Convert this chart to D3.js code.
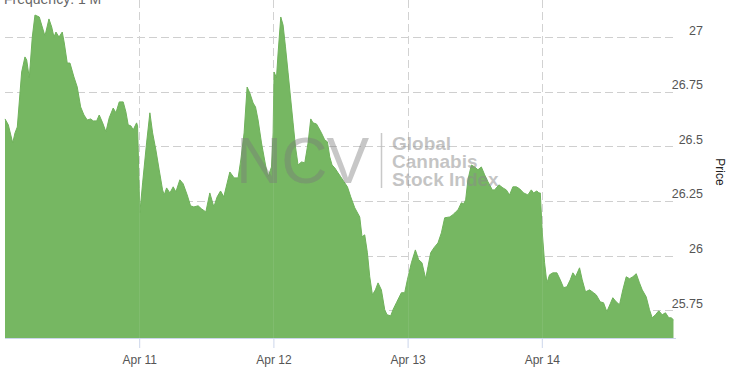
<!DOCTYPE html>
<html>
<head>
<meta charset="utf-8">
<script src="https://cdn.jsdelivr.net/npm/d3@7"></script>
<style>
  html, body { margin: 0; padding: 0; background: #fff; }
  svg { display: block; font-family: "Liberation Sans", Arial, Helvetica, sans-serif; }
</style>
</head>
<body>
<svg id="chart" width="734" height="370"></svg>
<script>
// Hours since Apr 10 00:00
const hours = [0,0.59,1.38,1.79,2.20,2.98,3.57,3.88,4.34,4.88,5.36,6.13,6.56,7.15,7.86,8.35,8.76,9.11,9.65,10.24,10.60,11.13,11.62,12.33,12.92,13.53,14.12,14.71,15.31,15.78,16.39,16.85,17.46,18.05,18.64,19.35,19.84,20.43,21.14,21.62,22.03,22.52,22.93,23.53,23.71,24.12,24.61,25.32,25.91,26.40,26.98,27.57,28.18,28.47,28.90,29.49,30.08,30.56,31.27,31.86,32.58,33.18,33.77,34.54,35.15,35.92,36.63,37.35,37.94,38.55,39.13,40.21,40.98,41.69,42.17,42.76,43.30,43.78,44.37,44.80,45.26,45.87,46.59,47.05,47.66,47.95,48.12,48.55,48.84,49.32,49.73,50.16,50.63,51.11,51.52,51.95,52.41,53.02,53.61,54.20,54.68,55.09,55.70,56.11,56.59,57.18,57.66,58.08,58.49,58.97,59.56,60.04,60.63,61.24,61.83,62.55,63.44,63.85,64.33,64.81,65.23,65.71,66.24,66.71,67.31,67.91,68.32,68.98,69.39,70.00,70.89,71.48,71.96,72.68,73.39,73.98,74.57,75.23,75.64,76.13,76.72,77.43,78.04,78.63,79.52,80.11,80.59,81.01,81.61,82.02,82.38,82.79,83.40,83.99,84.58,85.19,85.78,86.37,87.15,87.56,88.33,89.05,89.65,90.24,90.83,91.44,92.03,92.75,93.51,94.12,94.53,95.12,95.48,95.73,96.09,96.50,96.91,97.39,97.98,98.70,99.30,99.89,100.48,101.09,101.56,102.04,102.75,103.23,103.82,104.54,105.25,105.74,106.45,107.04,107.63,108.24,108.70,109.31,109.90,110.49,111.10,111.69,112.28,112.89,113.47,113.96,114.67,115.26,115.74,116.33,116.92,117.53,118.12,118.71,119.14,119.55];
const prices = [26.626,26.599,26.516,26.562,26.589,26.841,26.910,26.896,26.814,27.001,27.102,27.093,27.056,27.006,27.084,27.047,27.001,27.024,27.001,27.024,26.974,26.882,26.882,26.818,26.772,26.681,26.644,26.621,26.626,26.617,26.617,26.644,26.608,26.567,26.631,26.676,26.654,26.704,26.704,26.658,26.599,26.594,26.576,26.608,26.594,26.196,26.333,26.516,26.654,26.562,26.484,26.393,26.301,26.278,26.310,26.287,26.315,26.292,26.347,26.329,26.278,26.228,26.223,26.228,26.214,26.200,26.287,26.223,26.269,26.296,26.269,26.383,26.356,26.356,26.438,26.562,26.772,26.745,26.699,26.681,26.621,26.516,26.415,26.361,26.406,26.562,26.841,26.814,26.928,27.093,27.056,26.956,26.837,26.713,26.608,26.498,26.415,26.429,26.425,26.516,26.626,26.608,26.603,26.585,26.562,26.530,26.521,26.452,26.415,26.402,26.379,26.361,26.338,26.315,26.269,26.219,26.177,26.086,26.095,26.013,25.903,25.820,25.843,25.875,25.843,25.752,25.729,25.724,25.752,25.784,25.830,25.830,25.889,25.967,26.026,25.981,25.967,25.894,25.949,26.013,26.036,26.058,26.104,26.173,26.177,26.187,26.200,26.209,26.242,26.237,26.255,26.347,26.415,26.406,26.393,26.406,26.370,26.338,26.301,26.301,26.324,26.310,26.301,26.278,26.315,26.315,26.306,26.287,26.278,26.301,26.287,26.296,26.287,26.287,26.104,25.967,25.875,25.912,25.921,25.921,25.889,25.853,25.857,25.889,25.921,25.903,25.944,25.889,25.834,25.843,25.830,25.820,25.788,25.784,25.743,25.779,25.807,25.788,25.775,25.843,25.903,25.894,25.903,25.917,25.875,25.843,25.811,25.752,25.715,25.729,25.747,25.729,25.738,25.715,25.715,25.706];
const yTicks = [25.75, 26, 26.25, 26.5, 26.75, 27];
const yDomain = [25.6225, 27.125];
const startDate = new Date(2018, 3, 10);
const endDate = new Date(2018, 3, 15);
const xTickDates = [new Date(2018, 3, 11), new Date(2018, 3, 12), new Date(2018, 3, 13), new Date(2018, 3, 14)];
const headerText = "Frequency: 1 M";
const yTitle = "Price";
const watermarkBig = "NCV";
const watermarkLines = ["Global", "Cannabis", "Stock Index"];

(function draw() {
  const data = hours.map((h, i) => ({ date: new Date(startDate.getTime() + h * 3600e3), value: prices[i] }));

  const svg = d3.select("#chart");
  const pL = 5, pR = 676, pT = 10, pB = 338;

  const x = d3.scaleTime().domain([startDate, endDate]).range([pL, pR]);
  const y = d3.scaleLinear().domain(yDomain).range([pB, pT]);

  // Horizontal grid
  svg.append("g").selectAll("line").data(yTicks).join("line")
    .attr("x1", pL).attr("x2", pR + 1)
    .attr("y1", d => Math.round(y(d)) + 0.5).attr("y2", d => Math.round(y(d)) + 0.5)
    .attr("stroke", "#cfcfcf").attr("stroke-width", 1).attr("stroke-dasharray", "8,4");

  // Vertical grid
  svg.append("g").selectAll("line").data(xTickDates).join("line")
    .attr("x1", d => Math.round(x(d)) + 0.5).attr("x2", d => Math.round(x(d)) + 0.5)
    .attr("y1", 0).attr("y2", pB)
    .attr("stroke", "#cfcfcf").attr("stroke-width", 1).attr("stroke-dasharray", "8,4");

  // Area
  const area = d3.area().x(d => x(d.date)).y0(pB).y1(d => y(d.value)).curve(d3.curveLinear);
  svg.append("path").datum(data).attr("d", area).attr("fill", "#76b762");
  const line = d3.line().x(d => x(d.date)).y(d => y(d.value));
  svg.append("path").datum(data).attr("d", line).attr("fill", "none").attr("stroke", "#6fb25b").attr("stroke-width", 1);

  // faint vertical grid over area
  svg.append("g").selectAll("line").data(xTickDates).join("line")
    .attr("x1", d => Math.round(x(d)) + 0.5).attr("x2", d => Math.round(x(d)) + 0.5)
    .attr("y1", 0).attr("y2", pB)
    .attr("stroke", "#ffffff").attr("stroke-opacity", 0.08).attr("stroke-width", 1);

  // X axis
  const xAxis = d3.axisBottom(x).tickValues(xTickDates)
    .tickFormat(d => d3.timeFormat("%b ")(d) + d.getDate()).tickSize(10).tickSizeOuter(0);
  const gx = svg.append("g").attr("transform", `translate(0,${pB})`).call(xAxis);
  gx.select(".domain").attr("stroke", "#ccd6eb").attr("d", `M${pL},0.5H${pR}`);
  gx.selectAll(".tick line").attr("stroke", "#ccd6eb");
  gx.selectAll(".tick text").attr("fill", "#555").attr("font-size", 12).attr("dy", "1.1em")
    .attr("font-family", "Liberation Sans, Arial, sans-serif");

  // Y axis labels (right)
  const yAxis = d3.axisRight(y).tickValues(yTicks).tickFormat(d => String(d)).tickSize(0);
  const gy = svg.append("g").attr("transform", `translate(${pR},0)`).call(yAxis);
  gy.select(".domain").remove();
  gy.selectAll(".tick text").attr("fill", "#555").attr("font-size", 12.5)
    .attr("font-family", "Liberation Sans, Arial, sans-serif")
    .attr("text-anchor", "end").attr("x", 27).attr("dy", "-0.25em");

  // Y title
  svg.append("text").attr("transform", "translate(716,172) rotate(90)")
    .attr("text-anchor", "middle").attr("font-size", 12).attr("fill", "#222").text(yTitle);

  // Header (partially clipped at the top edge, as in the reference)
  svg.append("text").attr("x", 4).attr("y", 4).attr("font-size", 14).attr("fill", "#666").text(headerText);

  // Watermark
  const wm = svg.append("g");
  wm.append("text").attr("x", 236).attr("y", 183).attr("font-size", 64).attr("font-weight", 300)
    .attr("fill", "#7a7a7a").attr("fill-opacity", 0.42).attr("letter-spacing", -1).text(watermarkBig);
  wm.append("line").attr("x1", 381.5).attr("x2", 381.5).attr("y1", 133).attr("y2", 188)
    .attr("stroke", "#bbb").attr("stroke-width", 1.5).attr("stroke-opacity", 0.8);
  wm.selectAll("text.wl").data(watermarkLines).join("text").attr("class", "wl")
    .attr("x", 392).attr("y", (d, i) => 150 + i * 18)
    .attr("font-size", 19).attr("font-weight", "bold")
    .attr("fill", "#8a8a8a").attr("fill-opacity", 0.5).text(d => d);
})();
</script>
</body>
</html>
